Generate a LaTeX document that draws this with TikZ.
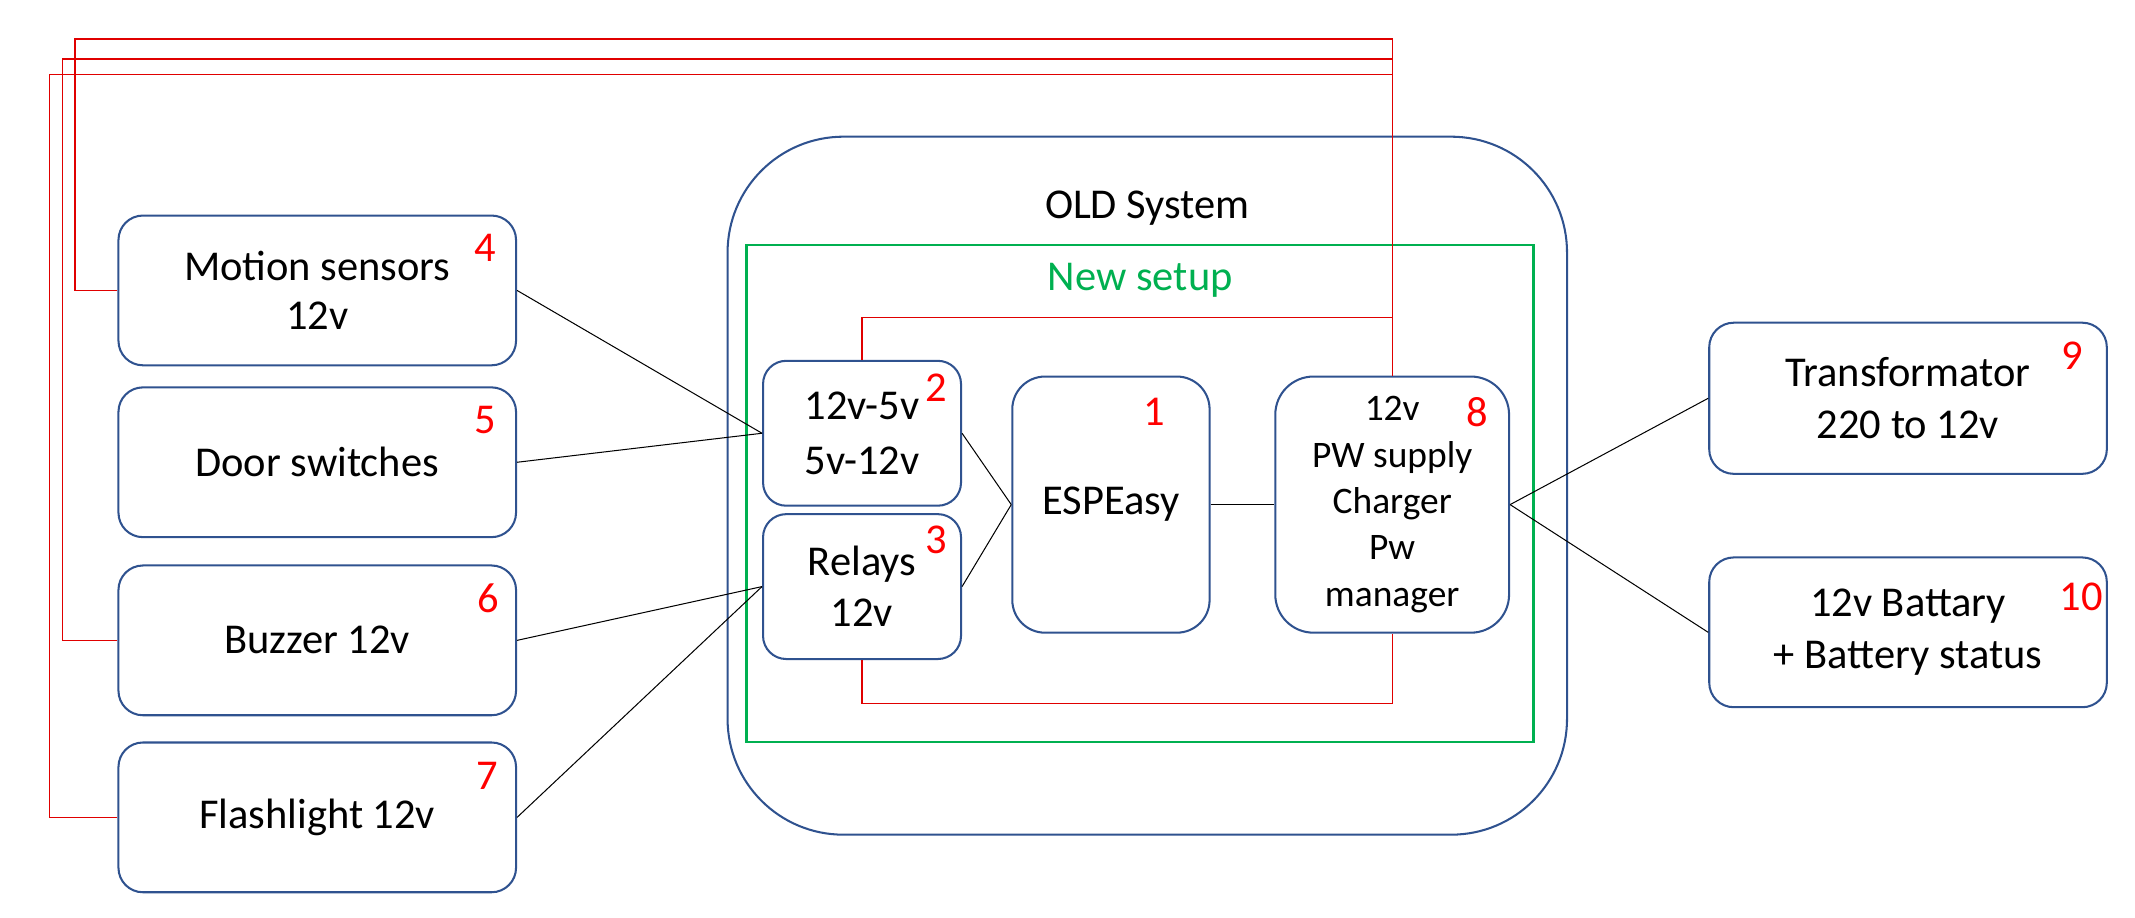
\documentclass[tikz,border=0pt]{standalone}
\usepackage{fontspec}
\setmainfont{Carlito}
\usetikzlibrary{positioning}
\definecolor{boxblue}{HTML}{2F528F}
\definecolor{newgreen}{HTML}{00B050}
\definecolor{wirered}{HTML}{E00000}
\begin{document}
\begin{tikzpicture}[x=1pt,y=-1pt,font=\fontsize{31.2}{36.5}\selectfont,
box/.style={draw=boxblue, line width=1.5pt, rounded corners=18pt, minimum width=292pt, minimum height=110pt, align=center, inner sep=0pt},
small/.style={box, minimum width=145.4pt, minimum height=106.4pt, rounded corners=17pt},
tall/.style={box, minimum height=188.1pt, rounded corners=#1},
num/.style={text=red, inner sep=0pt},
wire/.style={wirered, line width=0.9pt},
link/.style={black, line width=0.75pt}]
\useasboundingbox (0,0) rectangle (1568,673.5);
\node[draw=boxblue, line width=1.5pt, rounded corners=85pt, minimum width=616.5pt, minimum height=512.6pt] (old) at (842.6,356.7) {};
\node (oldlbl) at ([shift={(0,53.5)}]old.north) {OLD System};
\node[draw=newgreen, line width=2pt, minimum width=577.9pt, minimum height=365pt] (new) at (837.45,362.5) {};
\node[text=newgreen] (newlbl) at ([shift={(0,27)}]new.north) {New setup};
\node[box] (motion) at (233,213.3) {Motion sensors\\12v};
\node[box] (door) at (233,339.5) {Door switches};
\node[box] (buzzer) at (233,470.3) {Buzzer 12v};
\node[box] (flash) at (233,600.3) {Flashlight 12v};
\node[small] (conv) at (633.1,318.2) {12v-5v\\[3.5pt]5v-12v};
\node[small] (relay) at (633.1,430.8) {Relays\\[1pt]12v};
\node[tall=24pt, minimum width=144.9pt] (esp) at (815.9,370.6) {ESPEasy};
\node[tall=28pt, minimum width=171.7pt, font=\fontsize{27.5}{34}\selectfont] (pw) at (1022.45,370.6) {12v\\PW supply\\Charger\\Pw\\manager};
\node[box, minimum height=111pt] (trans) at (1401.3,292.5) {Transformator\\[1.5pt]220 to 12v};
\node[box] (batt) at (1401.3,464.4) {12v Battary\\[1.5pt]+ Battery status};
\node[num] (n1) at ([shift={(-41.3,27)}]esp.north east) {1};
\node[num] (n2) at ([shift={(-19.3,20.5)}]conv.north east) {2};
\node[num] (n3) at ([shift={(-19.3,20)}]relay.north east) {3};
\node[num] (n4) at ([shift={(-23,24.6)}]motion.north east) {4};
\node[num] (n5) at ([shift={(-23,24.6)}]door.north east) {5};
\node[num] (n6) at ([shift={(-21,25)}]buzzer.north east) {6};
\node[num] (n7) at ([shift={(-22,25)}]flash.north east) {7};
\node[num] (n8) at ([shift={(-24,27)}]pw.north east) {8};
\node[num] (n9) at ([shift={(-26.5,25)}]trans.north east) {9};
\node[num] (n10) at ([shift={(-19.5,29.6)}]batt.north east) {10};
\coordinate (t1) at (55,28.6);
\coordinate (t2) at (46,43.3);
\coordinate (t3) at (36.6,54.8);
\foreach \a/\t in {motion/t1, buzzer/t2, flash/t3}
  \draw[wire] (\a.west) -| (\t) -| (pw.north);
\draw[wire] (conv.north) -- ++(0,-31.2) -| (pw.north);
\draw[wire] (relay.south) -- ++(0,31.8) -| (pw.south);
\foreach \a/\b in {motion/conv, door/conv, buzzer/relay, flash/relay, conv/esp, relay/esp, esp/pw, pw/trans, pw/batt}
  \draw[link] (\a.east) -- (\b.west);
\end{tikzpicture}
\end{document}
